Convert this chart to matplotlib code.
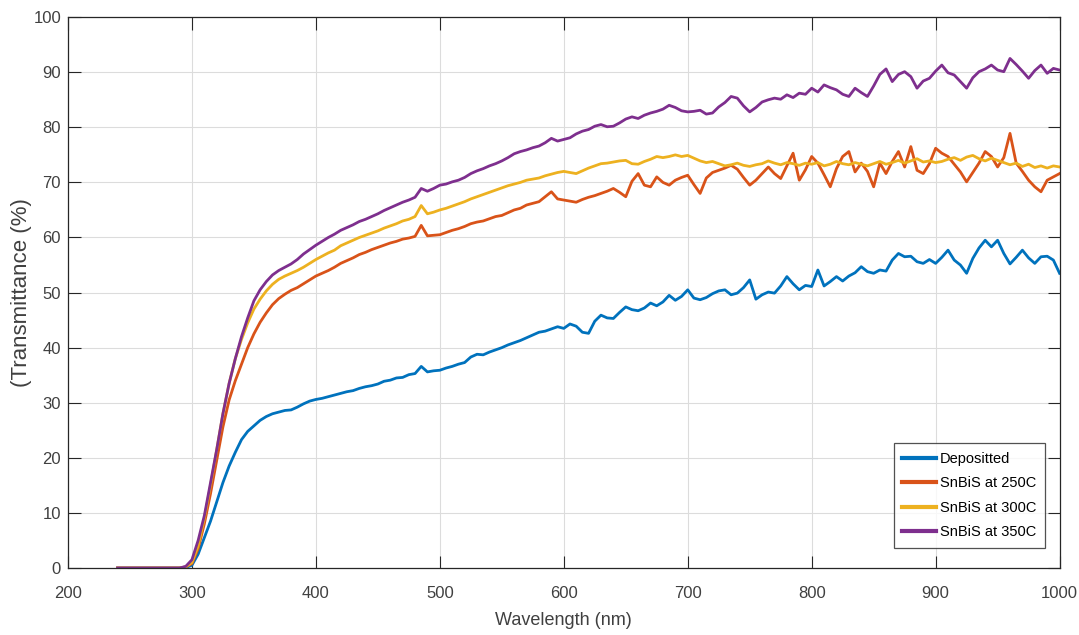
import matplotlib.pyplot as plt
import numpy as np

# wavelength grid (nm)
wavelength = np.concatenate([[240, 250, 260, 270, 280], np.arange(290, 1001, 5)])

deposited = [
    0, 0, 0, 0, 0,
    0.0, 0.1, 0.5, 2.5, 5.5, 8.5, 12.0, 15.5, 18.5, 21.0,
    23.3, 24.8, 25.8, 26.8, 27.5, 28.0, 28.3, 28.6, 28.7, 29.2,
    29.8, 30.3, 30.6, 30.8, 31.1, 31.4, 31.7, 32.0, 32.2, 32.6,
    32.9, 33.1, 33.4, 33.9, 34.1, 34.5, 34.6, 35.1, 35.3, 36.6,
    35.6, 35.8, 35.9, 36.3, 36.6, 37.0, 37.3, 38.3, 38.8, 38.7,
    39.2, 39.6, 40.0, 40.5, 40.9, 41.3, 41.8, 42.3, 42.8, 43.0,
    43.4, 43.8, 43.5, 44.3, 43.9, 42.8, 42.6, 44.8, 45.9, 45.4,
    45.3, 46.4, 47.4, 46.9, 46.7, 47.2, 48.1, 47.6, 48.3, 49.5,
    48.6, 49.3, 50.5, 49.0, 48.7, 49.1, 49.8, 50.3, 50.5, 49.6,
    49.9, 50.9, 52.3, 48.8, 49.6, 50.1, 49.9, 51.2, 52.9, 51.6,
    50.5, 51.3, 51.1, 54.1, 51.2, 52.0, 52.9, 52.1, 53.0, 53.6,
    54.7, 53.8, 53.5, 54.1, 53.9, 55.9, 57.1, 56.5, 56.6, 55.6,
    55.3, 56.0, 55.3, 56.4, 57.7, 55.9, 55.0, 53.5, 56.2, 58.1,
    59.5, 58.3, 59.5, 57.1, 55.2, 56.4, 57.7, 56.3, 55.3, 56.5,
    56.6, 55.9, 53.5,
]

snbis_250 = [
    0, 0, 0, 0, 0,
    0.0, 0.2, 0.8, 3.5, 8.0, 13.5, 19.5, 25.6, 30.5, 34.0,
    37.0, 40.0, 42.5, 44.6, 46.3, 47.8, 48.9, 49.7, 50.4, 50.9,
    51.6, 52.3, 53.0, 53.5, 54.0, 54.6, 55.3, 55.8, 56.3, 56.9,
    57.3, 57.8, 58.2, 58.6, 59.0, 59.3, 59.7, 59.9, 60.2, 62.2,
    60.3, 60.4, 60.5, 60.9, 61.3, 61.6, 62.0, 62.5, 62.8, 63.0,
    63.4, 63.8, 64.0, 64.5, 65.0, 65.3, 65.9, 66.2, 66.5, 67.4,
    68.3, 67.0, 66.8, 66.6, 66.4, 66.9, 67.3, 67.6, 68.0, 68.4,
    68.9, 68.2, 67.4, 70.2, 71.6, 69.5, 69.2, 71.0, 70.0, 69.5,
    70.4, 70.9, 71.3, 69.6, 68.0, 70.8, 71.8, 72.2, 72.6, 73.1,
    72.4, 70.9, 69.5, 70.4, 71.6, 72.8, 71.6, 70.7, 73.0, 75.3,
    70.4, 72.3, 74.7, 73.5, 71.4, 69.2, 72.5, 74.7, 75.6, 71.9,
    73.5, 72.0, 69.2, 73.5, 71.6, 73.8, 75.6, 72.8, 76.5, 72.2,
    71.6, 73.4, 76.2, 75.3, 74.7, 73.3, 71.9, 70.1, 71.8, 73.5,
    75.6, 74.7, 72.8, 74.5, 78.9, 73.5, 72.0, 70.4, 69.2, 68.3,
    70.4, 71.0, 71.6,
]

snbis_300 = [
    0, 0, 0, 0, 0,
    0.0, 0.2, 1.0, 4.0, 9.0, 15.0, 21.5, 28.0, 33.5, 38.0,
    41.5, 44.5, 47.0, 48.8, 50.3, 51.5, 52.4, 53.0, 53.5, 54.0,
    54.6, 55.3, 56.0, 56.6, 57.2, 57.7, 58.5, 59.0, 59.5, 60.0,
    60.4, 60.8, 61.2, 61.7, 62.1, 62.5, 63.0, 63.3, 63.8, 65.8,
    64.3, 64.6, 65.0, 65.3, 65.7, 66.1, 66.5, 67.0, 67.4, 67.8,
    68.2, 68.6, 69.0, 69.4, 69.7, 70.0, 70.4, 70.6, 70.8, 71.2,
    71.5, 71.8, 72.0, 71.8, 71.6, 72.1, 72.6, 73.0, 73.4, 73.5,
    73.7, 73.9, 74.0, 73.4, 73.3, 73.8, 74.2, 74.7, 74.5, 74.7,
    75.0, 74.7, 74.9, 74.4, 73.9, 73.6, 73.8, 73.4, 73.0, 73.2,
    73.5, 73.1, 72.9, 73.2, 73.4, 73.9, 73.5, 73.2, 73.6, 73.4,
    73.1, 73.5, 73.3, 73.6, 73.0, 73.3, 73.8, 73.4, 73.2, 73.6,
    73.3, 73.0, 73.4, 73.8, 73.3, 73.6, 74.0, 73.5, 73.9, 74.3,
    73.7, 73.9, 73.6, 73.8, 74.2, 74.5, 74.0, 74.6, 74.9, 74.3,
    73.9, 74.4, 74.0, 73.6, 73.2, 73.5, 72.9, 73.3, 72.7, 73.0,
    72.6, 73.0, 72.8,
]

snbis_350 = [
    0, 0, 0, 0, 0,
    0.0, 0.3, 1.5, 5.0, 9.5, 15.5, 21.5, 28.0, 33.5, 38.0,
    42.0, 45.4, 48.5, 50.5, 52.0, 53.2, 54.0, 54.6, 55.2, 56.0,
    57.0, 57.8, 58.6, 59.3, 60.0, 60.6, 61.3, 61.8, 62.3, 62.9,
    63.3, 63.8, 64.3, 64.9, 65.4, 65.9, 66.4, 66.8, 67.3, 68.9,
    68.4, 68.9, 69.5, 69.7, 70.1, 70.4, 70.9, 71.6, 72.1, 72.5,
    73.0, 73.4, 73.9, 74.5, 75.2, 75.6, 75.9, 76.3, 76.6, 77.2,
    78.0, 77.5, 77.8, 78.1, 78.8, 79.3, 79.6, 80.2, 80.5, 80.1,
    80.2, 80.8, 81.5, 81.9, 81.6, 82.2, 82.6, 82.9, 83.3, 84.0,
    83.6, 83.0, 82.8, 82.9, 83.1, 82.4, 82.6, 83.7, 84.5, 85.6,
    85.3, 83.9, 82.8, 83.6, 84.6, 85.0, 85.3, 85.1, 85.9, 85.4,
    86.2, 86.0, 87.1, 86.4, 87.7, 87.2, 86.8, 86.0, 85.6, 87.1,
    86.3, 85.6, 87.5, 89.6, 90.6, 88.3, 89.6, 90.1, 89.2, 87.1,
    88.4, 88.9, 90.2, 91.3, 89.9, 89.5, 88.3, 87.1, 89.0, 90.1,
    90.6, 91.3, 90.4, 90.1, 92.5, 91.4, 90.2, 88.9, 90.3, 91.3,
    89.8, 90.7, 90.4,
]

labels = ["Depositted", "SnBiS at 250C", "SnBiS at 300C", "SnBiS at 350C"]
colors = ["#0072BD", "#D95319", "#EDB120", "#7E2F8E"]

plt.rcParams["font.family"] = ["Liberation Sans", "DejaVu Sans"]

fig = plt.figure(figsize=(10.79, 6.35), dpi=100)
ax = fig.add_axes([0.063, 0.1055, 0.919, 0.8675])

for series, label, color in zip([deposited, snbis_250, snbis_300, snbis_350], labels, colors):
    ax.plot(wavelength, series, color=color, linewidth=2.0, label=label)

ax.set_xlim(200, 1000)
ax.set_ylim(0, 100)
ax.set_xticks(np.arange(200, 1001, 100))
ax.set_yticks(np.arange(0, 101, 10))
ax.grid(True, color="#dcdcdc", linewidth=0.8)
ax.set_axisbelow(True)
ax.tick_params(direction="in", top=True, right=True, length=9, width=0.8,
               labelsize=12, colors="#262626", labelcolor="#404040")
ax.tick_params(axis="x", pad=13)
ax.tick_params(axis="y", pad=5)
for spine in ax.spines.values():
    spine.set_color("#262626")
    spine.set_linewidth(0.9)

ax.set_xlabel("Wavelength (nm)", fontsize=13, color="#404040", labelpad=8)
ax.set_ylabel("(Transmittance (%)", fontsize=16, color="#404040", labelpad=1)

leg = ax.legend(loc="lower right", bbox_to_anchor=(0.985, 0.036), fontsize=10.5,
                frameon=True, fancybox=False, handlelength=2.3, handletextpad=0.25,
                borderpad=0.6, labelspacing=0.72, borderaxespad=0.0)
leg.get_frame().set_edgecolor("#262626")
leg.get_frame().set_linewidth(0.9)
for line in leg.get_lines():
    line.set_linewidth(3)

fig.savefig("out.png", dpi=100)
